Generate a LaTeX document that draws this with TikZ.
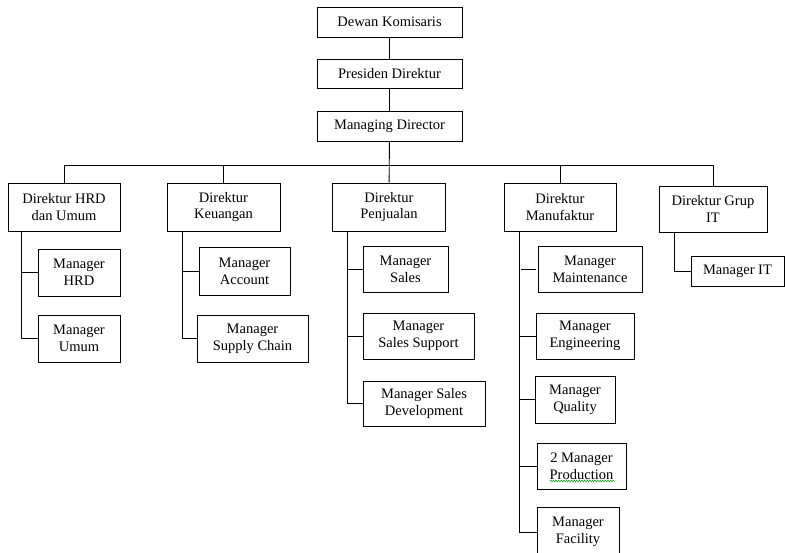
\documentclass[tikz,border=0pt]{standalone}
\usepackage{fontspec}
\setmainfont{Liberation Serif}
\usetikzlibrary{decorations.pathmorphing}
\begin{document}
\begin{tikzpicture}[x=1pt,y=-1pt,
  box/.style={draw, line width=0.9pt, inner sep=0pt, align=center,
    font=\fontsize{14.5}{16.7}\selectfont},
  link/.style={line width=0.9pt}]
\useasboundingbox (0,0) rectangle (785,553);
\clip (0,0) rectangle (785,553);

% top of the hierarchy
\node[box, minimum width=145, minimum height=30] (dk) at (389.5,22) {Dewan Komisaris};
\node[box, minimum width=145, minimum height=29] (pd) at (389.5,73.5) {Presiden Direktur};
\node[box, minimum width=145, minimum height=30] (md) at (389.5,126) {Managing Director};

% directors
\node[box, minimum width=112, minimum height=48] (dhrd) at (64,207) {Direktur HRD\\dan Umum};
\node[box, minimum width=113, minimum height=48] (dkeu) at (223.5,207) {Direktur\\Keuangan};
\node[box, minimum width=113, minimum height=48] (dpen) at (389,207) {Direktur\\Penjualan};
\node[box, minimum width=112, minimum height=48] (dman) at (560,207) {Direktur\\Manufaktur};
\node[box, minimum width=108, minimum height=46] (dit) at (713,209) {Direktur Grup\\IT};

% managers
\node[box, minimum width=82, minimum height=47] (mhrd) at (79,272.5) {Manager\\HRD};
\node[box, minimum width=82, minimum height=47] (mumum) at (79,338.5) {Manager\\Umum};
\node[box, minimum width=91, minimum height=48] (macc) at (244.5,271) {Manager\\Account};
\node[box, minimum width=111, minimum height=47] (msc) at (252.5,338.5) {Manager\\Supply Chain};
\node[box, minimum width=85, minimum height=46] (msales) at (405.5,269) {Manager\\Sales};
\node[box, minimum width=111, minimum height=46] (mss) at (418.5,336) {Manager\\Sales Support};
\node[box, minimum width=122, minimum height=45] (msd) at (424,403.5) {Manager Sales\\Development};
\node[box, minimum width=104, minimum height=46] (mmaint) at (590,269) {Manager\\Maintenance};
\node[box, minimum width=98, minimum height=46] (meng) at (585,336) {Manager\\Engineering};
\node[box, minimum width=80, minimum height=47] (mqual) at (575,399.5) {Manager\\Quality};
\node[box, minimum width=89, minimum height=46] (mprod) at (581.5,466) {2 Manager\\Production};
\node[box, minimum width=82, minimum height=50] (mfac) at (578,532) {Manager\\Facility};
\node[box, minimum width=93, minimum height=30] (mit) at (737.5,271) {Manager IT};

% spell-check squiggle under "Production"
\draw[green!60!black, line width=0.5pt, decorate,
  decoration={snake, amplitude=0.9pt, segment length=2.6pt}]
  (550,481) -- (615,481);

% top chain
\draw[link] (dk) -- (pd);
\draw[link] (pd) -- (md);
\coordinate (bus) at (389,165);
\draw[link] (md) -- (dpen);
\draw[link] (dhrd.north) -- (dhrd.north |- bus) -- (dit.north |- bus) -- (dit.north);
\draw[link] (dkeu.north |- bus) -- (dkeu.north);
\draw[link] (dman.north |- bus) -- (dman.north);

% trunks below each director
\coordinate (thrd) at (21,231);
\coordinate (tkeu) at (182,231);
\coordinate (tpen) at (347,231);
\coordinate (tman) at (519,231);
\coordinate (tit) at (674,232);

\draw[link] (thrd) |- (mumum.west);
\draw[link] (thrd |- mhrd.west) -- (mhrd.west);

\draw[link] (tkeu) |- (msc.west);
\draw[link] (tkeu |- macc.west) -- (macc.west);

\draw[link] (tpen) |- (msd.west);
\draw[link] (tpen |- msales.west) -- (msales.west);
\draw[link] (tpen |- mss.west) -- (mss.west);

\draw[link] (tman) |- (mfac.west);
\draw[link, shorten <=2pt, shorten >=1.5pt] (tman |- mmaint.west) -- (mmaint.west);
\draw[link] (tman |- meng.west) -- (meng.west);
\draw[link] (tman |- mqual.west) -- (mqual.west);
\draw[link] (tman |- mprod.west) -- (mprod.west);

\draw[link] (tit) |- (mit.west);
\end{tikzpicture}
\end{document}
